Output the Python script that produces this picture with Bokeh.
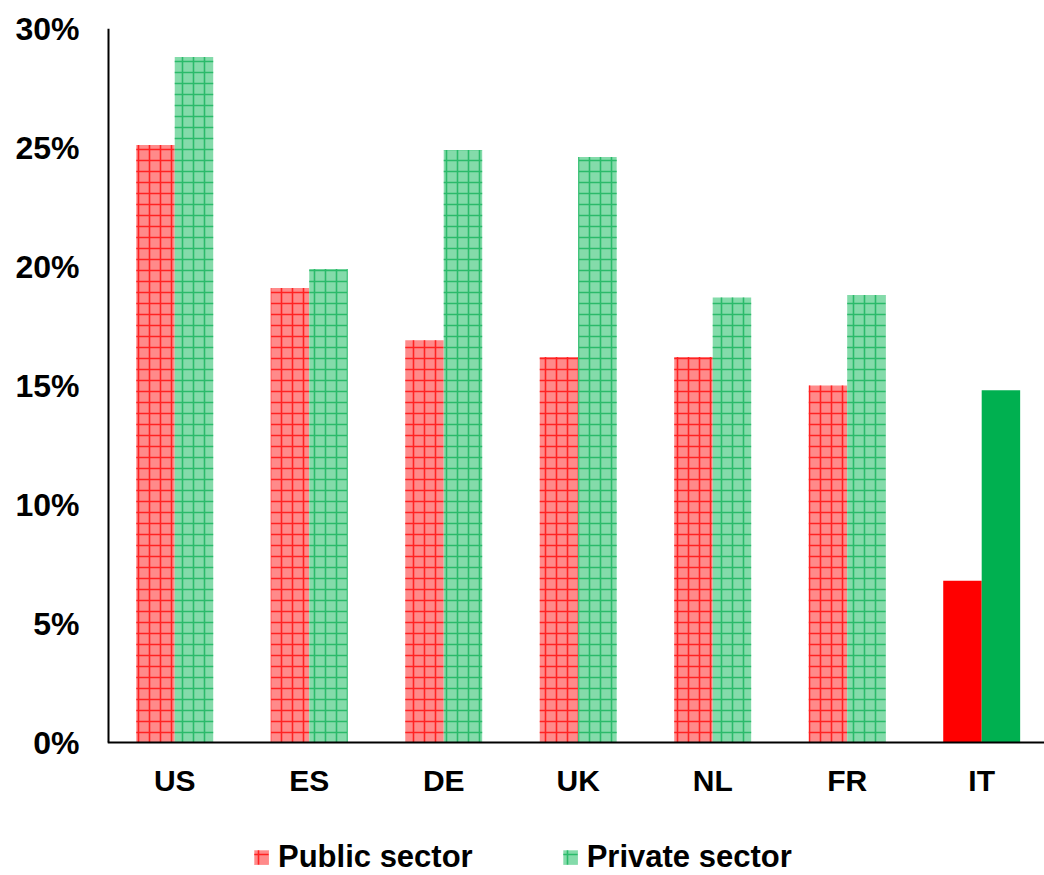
from bokeh.plotting import figure
from bokeh.models import ColumnDataSource, Range1d, Legend, LegendItem, FixedTicker
from bokeh.core.properties import value
from bokeh.embed import file_html
from bokeh.resources import INLINE

countries = ["US", "ES", "DE", "UK", "NL", "FR", "IT"]
public_sector = [25.1, 19.1, 16.9, 16.2, 16.2, 15.0, 6.8]
private_sector = [28.8, 19.9, 24.9, 24.6, 18.7, 18.8, 14.8]
y_ticks = [0, 5, 10, 15, 20, 25, 30]

BAR_W = 0.286
FONT = "Liberation Sans"
X_START, X_END = -0.5, 6.467
Y_MIN, Y_MAX = -5.588, 30   # room under zero for the country names and legend
LABEL_Y = -1.6

xs = list(range(len(countries)))
solid = [c == "IT" for c in countries]

pub_src = ColumnDataSource(dict(
    x=[i - BAR_W / 2 for i in xs],
    top=public_sector,
    fill=["#FF0000" if s else "#FF8A8A" for s in solid],
    hatch=[" " if s else "+" for s in solid],
))
priv_src = ColumnDataSource(dict(
    x=[i + BAR_W / 2 for i in xs],
    top=private_sector,
    fill=["#00B050" if s else "#84DBAA" for s in solid],
    hatch=[" " if s else "+" for s in solid],
))
name_src = ColumnDataSource(dict(x=xs, y=[LABEL_Y] * len(xs), name=countries))

p = figure(frame_width=937, frame_height=847, output_backend="svg", toolbar_location=None,
           x_range=Range1d(X_START, X_END), y_range=Range1d(Y_MIN, Y_MAX),
           min_border_left=107, min_border_right=0, min_border_top=28,
           min_border_bottom=0)
p.outline_line_color = None
p.xgrid.visible = False
p.ygrid.visible = False
p.xaxis.visible = False

r_pub = p.vbar(x="x", top="top", width=BAR_W, source=pub_src, fill_color="fill",
               line_color=None, hatch_pattern="hatch", hatch_color="#FF2222",
               hatch_scale=11, hatch_weight=1.6)
r_priv = p.vbar(x="x", top="top", width=BAR_W, source=priv_src, fill_color="fill",
                line_color=None, hatch_pattern="hatch", hatch_color="#2BBA6A",
                hatch_scale=11, hatch_weight=1.6)

# axis lines: horizontal at zero, vertical from 0 to the top tick
p.segment(x0=X_START, y0=0, x1=X_END, y1=0, line_color="black", line_width=2)
p.segment(x0=X_START, y0=0, x1=X_START, y1=y_ticks[-1], line_color="black", line_width=4)

# country names under the bars
p.text(x="x", y="y", text="name", source=name_src, text_align="center",
       text_baseline="middle", text_font=value(FONT), text_font_style="bold",
       text_font_size="30px", text_color="black")

# y axis labels
p.yaxis.ticker = FixedTicker(ticks=y_ticks)
p.yaxis.major_label_overrides = {t: f"{t}%" for t in y_ticks}
p.yaxis.major_tick_line_color = None
p.yaxis.minor_tick_line_color = None
p.yaxis.axis_line_color = None
p.yaxis.major_label_standoff = 22
p.yaxis.major_label_text_font = FONT
p.yaxis.major_label_text_font_style = "bold"
p.yaxis.major_label_text_font_size = "32px"
p.yaxis.major_label_text_color = "black"

legend = Legend(items=[
    LegendItem(label="Public sector", renderers=[r_pub], index=0),
    LegendItem(label="Private sector", renderers=[r_priv], index=0),
], orientation="horizontal", location=(145, 0))
legend.label_text_font = FONT
legend.label_text_font_style = "bold"
legend.label_text_font_size = "31px"
legend.label_text_color = "black"
legend.glyph_width = 18
legend.glyph_height = 18
legend.spacing = 88
legend.label_standoff = 8
legend.padding = 0
legend.margin = 0
legend.border_line_color = None
legend.background_fill_alpha = 0
p.add_layout(legend, "center")

open("out.html", "w").write(file_html(p, INLINE))
